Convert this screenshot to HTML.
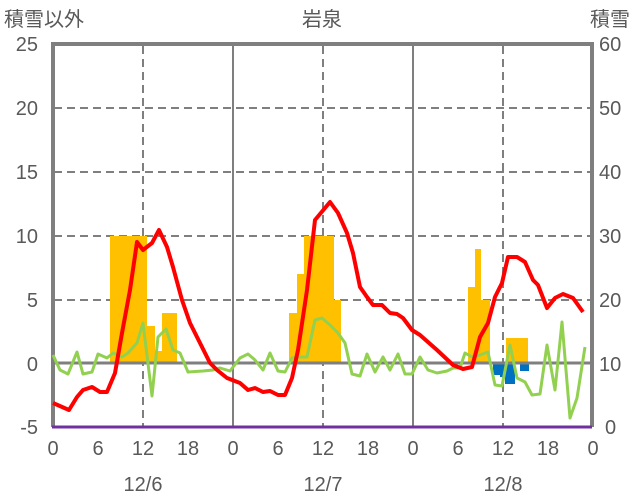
<!DOCTYPE html><html><head><meta charset="utf-8"><style>body{margin:0;background:#fff}svg{display:block}text{font-family:"Liberation Sans","Noto Sans CJK JP",sans-serif;fill:#595959;font-size:20px}</style></head><body>
<svg width="636" height="501" viewBox="0 0 636 501">
<g stroke="#7f7f7f" stroke-width="2" stroke-dasharray="8,5" fill="none">
<line x1="54" y1="108" x2="592" y2="108"/><line x1="54" y1="172" x2="592" y2="172"/><line x1="54" y1="236" x2="592" y2="236"/><line x1="54" y1="300" x2="592" y2="300"/>
<line x1="143" y1="46" x2="143" y2="427"/><line x1="323" y1="46" x2="323" y2="427"/><line x1="503" y1="46" x2="503" y2="427"/>
</g>
<g fill="#ffc000">
<rect x="110" y="236" width="37" height="127"/><rect x="147" y="326" width="8" height="37"/><rect x="155" y="351" width="7" height="12"/><rect x="162" y="313" width="15" height="50"/>
<rect x="289" y="313" width="8" height="50"/><rect x="297" y="274" width="7" height="89"/><rect x="304" y="236" width="30" height="127"/><rect x="334" y="300" width="7" height="63"/>
<rect x="468" y="287" width="7" height="76"/><rect x="475" y="249" width="6" height="114"/><rect x="481" y="300" width="9" height="63"/><rect x="506" y="338" width="22" height="25"/>
</g>
<g fill="#0070c0">
<rect x="493" y="363" width="7" height="12"/><rect x="500" y="363" width="5" height="14"/><rect x="505" y="363" width="10" height="21"/><rect x="520" y="363" width="9" height="8"/>
</g>
<g stroke="#7f7f7f" fill="none">
<line x1="54" y1="363" x2="592" y2="363" stroke-width="3"/>
<line x1="233" y1="46" x2="233" y2="427" stroke-width="2"/><line x1="413" y1="46" x2="413" y2="427" stroke-width="2"/>
<path d="M53 427V44H592V427" stroke-width="4"/>
</g>
<line x1="52" y1="427" x2="592" y2="427" stroke="#7030a0" stroke-width="3"/>
<polyline fill="none" stroke="#92d050" stroke-width="3" stroke-linejoin="round" points="53,355 60,370 68,374 77,352 83,374 92,372 98,354 107,358 113,353 122,357 128,353 137,343 143,323 152,396 158,337 166,329 173,350 180,353 188,372 203,371 213,370 220,368 230,371 240,358 248,354 255,360 263,370 270,353 278,371 285,372 292,358 300,357 307,357 315,320 322,318 330,325 338,333 345,343 352,374 360,376 367,354 375,372 383,357 390,370 398,354 405,374 412,374 420,357 428,370 437,373 447,371 453,368 460,368 465,353 472,357 480,355 488,352 495,385 502,386 510,345 517,378 525,382 532,395 540,394 547,345 555,390 562,322 570,418 577,398 585,347"/>
<polyline fill="none" stroke="#ff0000" stroke-width="4" stroke-linejoin="round" points="53,403 69,410 77,397 83,390 92,387 100,392 107,392 115,373 122,333 130,290 137,242 143,250 152,243 159,230 167,247 173,267 182,300 190,323 200,343 210,363 217,370 227,378 240,383 248,390 255,388 263,392 270,391 278,395 285,395 292,378 298,350 307,290 315,220 330,202 338,213 347,233 353,253 360,287 367,297 373,305 382,305 390,313 397,314 403,318 412,330 420,335 437,350 453,365 463,369 472,367 480,337 488,323 495,297 502,283 508,257 517,257 525,262 533,280 538,285 547,308 555,298 563,294 573,298 583,312"/>
<g text-anchor="end"><text x="38" y="51">25</text><text x="38" y="115">20</text><text x="38" y="179">15</text><text x="38" y="243">10</text><text x="38" y="307">5</text><text x="38" y="371">0</text><text x="38" y="434">-5</text></g>
<g text-anchor="start"><text x="599" y="51">60</text><text x="599" y="115">50</text><text x="599" y="179">40</text><text x="599" y="243">30</text><text x="599" y="307">20</text><text x="599" y="371">10</text><text x="605" y="434">0</text></g>
<g text-anchor="middle"><text x="53" y="455">0</text><text x="98" y="455">6</text><text x="143" y="455">12</text><text x="188" y="455">18</text><text x="233" y="455">0</text><text x="278" y="455">6</text><text x="323" y="455">12</text><text x="368" y="455">18</text><text x="413" y="455">0</text><text x="458" y="455">6</text><text x="503" y="455">12</text><text x="548" y="455">18</text><text x="593" y="455">0</text>
<text x="143" y="491">12/6</text><text x="323" y="491">12/7</text><text x="503" y="491">12/8</text><text x="322" y="26">岩泉</text></g>
<text x="4" y="26">積雪以外</text><text x="590" y="26">積雪</text>
</svg></body></html>
